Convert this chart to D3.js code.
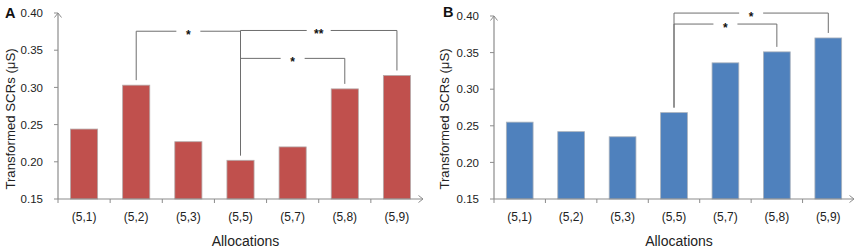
<!DOCTYPE html>
<html><head><meta charset="utf-8">
<script src="https://cdn.jsdelivr.net/npm/d3@7"></script>
<style>body{margin:0;background:#fff}svg{display:block}text{font-family:Arial,"Liberation Sans",sans-serif}</style>
</head><body>
<svg id="c" width="862" height="251"></svg>
<script>
const categories = ["(5,1)","(5,2)","(5,3)","(5,5)","(5,7)","(5,8)","(5,9)"];
const valuesA = [0.244, 0.303, 0.227, 0.202, 0.220, 0.298, 0.316];
const valuesB = [0.255, 0.242, 0.235, 0.268, 0.336, 0.351, 0.370];
const yTicks = [0.15, 0.20, 0.25, 0.30, 0.35, 0.40];
const yTickLabels = ["0.15","0.20","0.25","0.30","0.35","0.40"];
const bracketsA = [
  {from:"(5,2)", to:"(5,5)", level:0.3755, label:"*"},
  {from:"(5,5)", to:"(5,9)", level:0.3765, label:"**"},
  {from:"(5,5)", to:"(5,8)", level:0.339, label:"*"}
];
const bracketsB = [
  {from:"(5,5)", to:"(5,9)", level:0.404, label:"*"},
  {from:"(5,5)", to:"(5,8)", level:0.389, label:"*"}
];
const yTitle = "Transformed SCRs (\u03bcS)";
const xTitle = "Allocations";

const svg = d3.select("#c");
const axisColor = "#8c8c8c", brColor = "#6e6e6e";

function panel(opt){
  const g = svg.append("g");
  const x = d3.scaleBand().domain(categories).range([opt.left, opt.right]).paddingInner(0.48).paddingOuter(0.24);
  const y = d3.scaleLinear().domain([0.15, 0.40]).range([opt.bottom, opt.top]);
  // bars
  g.selectAll("rect.bar").data(opt.values).join("rect")
    .attr("x", (d,i)=>x(categories[i])).attr("width", x.bandwidth())
    .attr("y", d=>y(d)).attr("height", d=>y(0.15)-y(d))
    .attr("fill", opt.color).attr("stroke", opt.stroke).attr("stroke-width", 0.8);
  // y axis
  g.append("line").attr("x1",opt.left).attr("x2",opt.left).attr("y1",y(0.15)).attr("y2",y(0.40))
    .attr("stroke",axisColor).attr("stroke-width",1.2);
  g.append("path").attr("d",`M${opt.left-3.5},${y(0.40)+4.5}L${opt.left},${y(0.40)}L${opt.left+3.5},${y(0.40)+4.5}`)
    .attr("fill","none").attr("stroke",axisColor).attr("stroke-width",1);
  g.selectAll("line.yt").data(yTicks).join("line")
    .attr("x1",opt.left-4).attr("x2",opt.left).attr("y1",d=>y(d)).attr("y2",d=>y(d))
    .attr("stroke",axisColor).attr("stroke-width",1);
  g.selectAll("text.yl").data(yTicks).join("text")
    .attr("x",opt.left-15).attr("y",d=>y(d)).attr("dy","0.36em").attr("text-anchor","end")
    .attr("font-size",11.5).attr("fill","#222").text((d,i)=>yTickLabels[i]);
  // x axis
  g.append("line").attr("x1",opt.left).attr("x2",opt.right).attr("y1",y(0.15)).attr("y2",y(0.15))
    .attr("stroke",axisColor).attr("stroke-width",1.2);
  g.append("path").attr("d",`M${opt.right-4.5},${y(0.15)-3.5}L${opt.right},${y(0.15)}L${opt.right-4.5},${y(0.15)+3.5}`)
    .attr("fill","none").attr("stroke",axisColor).attr("stroke-width",1);
  const bounds = categories.map(c=>x(c) - x.step()*x.paddingInner()/2);
  g.selectAll("line.xt").data(bounds).join("line")
    .attr("x1",d=>d).attr("x2",d=>d).attr("y1",y(0.15)).attr("y2",y(0.15)+4)
    .attr("stroke",axisColor).attr("stroke-width",1);
  g.selectAll("text.xl").data(categories).join("text")
    .attr("x",d=>x(d)+x.bandwidth()/2).attr("y",y(0.15)+22).attr("text-anchor","middle")
    .attr("font-size",12).attr("fill","#222").text(d=>d);
  g.append("text").attr("x",(opt.left+opt.right)/2+5).attr("y",246).attr("text-anchor","middle")
    .attr("font-size",14).attr("fill","#222").text(xTitle);
  g.append("text").attr("transform",`translate(${opt.ytx},119) rotate(-90)`).attr("text-anchor","middle")
    .attr("font-size",13.2).attr("fill","#222").text(yTitle);
  g.append("text").attr("x",opt.lx).attr("y",opt.ly).attr("font-size",14.5).attr("font-weight","bold")
    .attr("fill","#111").text(opt.letter);
  // brackets
  const cx = c => x(c)+x.bandwidth()/2;
  const valOf = c => opt.values[categories.indexOf(c)];
  opt.brackets.forEach(b=>{
    const x1 = cx(b.from), x2 = cx(b.to), yl = y(b.level);
    const mid = (x1+x2)/2, gap = b.label.length>1 ? 12 : 12;
    const p = `M${x1},${y(valOf(b.from))-5}V${yl}H${mid-gap}M${mid+gap},${yl}H${x2}V${y(valOf(b.to))-5}`;
    g.append("path").attr("d",p).attr("fill","none").attr("stroke",brColor).attr("stroke-width",1);
    g.append("text").attr("x",mid).attr("y",yl+7.5).attr("text-anchor","middle")
      .attr("font-size",12).attr("font-weight","bold").attr("fill","#111").text(b.label);
  });
}

panel({left:58, right:423, top:13, bottom:199, values:valuesA, color:"#C0504D", stroke:"#b5a9a9",
       brackets:bracketsA, letter:"A", lx:5, ly:18, ytx:15});
panel({left:494, right:854, top:16, bottom:199, values:valuesB, color:"#4F81BD", stroke:"#a9b1bb",
       brackets:bracketsB, letter:"B", lx:443, ly:17, ytx:449});
</script>
</body></html>
